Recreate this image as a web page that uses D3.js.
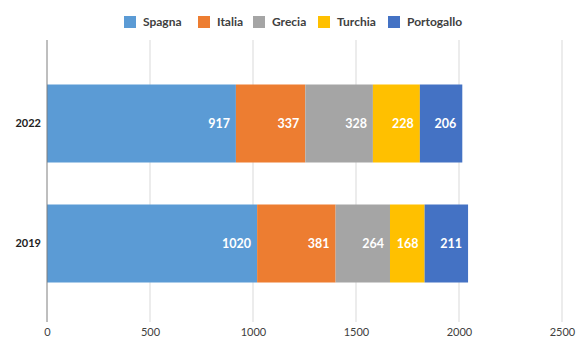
<!DOCTYPE html>
<html><head><meta charset="utf-8">
<script src="https://cdn.jsdelivr.net/npm/d3@7"></script>
<style>body{margin:0;background:#fff}svg{display:block}</style>
</head><body><svg id="c" width="580" height="359"></svg>
<script>
const years = ["2022", "2019"];
const countries = ["Spagna", "Italia", "Grecia", "Turchia", "Portogallo"];
const spagna = [917, 1020];
const italia = [337, 381];
const grecia = [328, 264];
const turchia = [228, 168];
const portogallo = [206, 211];
const xTicks = [0, 500, 1000, 1500, 2000, 2500];
const colors = ["#5B9BD5", "#ED7D31", "#A5A5A5", "#FFC000", "#4472C4"];

const seriesVals = [spagna, italia, grecia, turchia, portogallo];
const rows = years.map((y, i) => {
  const r = {year: y};
  countries.forEach((c, j) => r[c] = seriesVals[j][i]);
  return r;
});
const svg = d3.select("#c");
const font = "Lato, 'Open Sans', sans-serif";
const x = d3.scaleLinear().domain([0, 2500]).range([47, 562]);
const y = d3.scaleBand().domain(years).range([44, 323]).paddingInner(0.35).paddingOuter(0.3375);

// grid
svg.append("g").selectAll("line").data(xTicks.slice(1)).join("line")
  .attr("x1", d => x(d)).attr("x2", d => x(d)).attr("y1", 40).attr("y2", 322)
  .attr("stroke", "#d9d9d9").attr("stroke-width", 1);

const stack = d3.stack().keys(countries)(rows);
const col = d3.scaleOrdinal().domain(countries).range(colors);
const g = svg.append("g");
stack.forEach(s => {
  g.append("g").selectAll("rect").data(s).join("rect")
    .attr("x", d => x(d[0])).attr("width", d => x(d[1]) - x(d[0]))
    .attr("y", d => y(d.data.year)).attr("height", y.bandwidth())
    .attr("fill", col(s.key));
  g.append("g").selectAll("text").data(s).join("text")
    .attr("x", d => x(d[1]) - 6).attr("y", d => y(d.data.year) + y.bandwidth() / 2)
    .attr("dy", "0.35em").attr("text-anchor", "end")
    .attr("fill", "#fff").attr("font-family", font).attr("font-weight", "bold").attr("font-size", 12.5)
    .text(d => d.data[s.key]);
});

// axis line at 0
svg.append("line").attr("x1", x(0)).attr("x2", x(0)).attr("y1", 40).attr("y2", 322)
  .attr("stroke", "#7f7f7f").attr("stroke-width", 1);

// x tick labels
const xa = d3.axisBottom(x).tickValues(xTicks).tickFormat(d3.format("d")).tickSize(0).tickPadding(0);
const xg = svg.append("g").attr("transform", "translate(0,328)").call(xa);
xg.select(".domain").remove();
xg.selectAll("text").attr("font-family", font).attr("font-size", 11).attr("fill", "#404040");

// y labels
const ya = d3.axisLeft(y).tickSize(0).tickPadding(6);
const yg = svg.append("g").attr("transform", `translate(${x(0)},0)`).call(ya);
yg.select(".domain").remove();
yg.selectAll("text").attr("font-family", font).attr("font-size", 11).attr("font-weight", "bold").attr("fill", "#222");

// legend
const legX = [124, 198, 253, 318, 388];
const lg = svg.append("g");
countries.forEach((c, i) => {
  lg.append("rect").attr("x", legX[i]).attr("y", 16).attr("width", 12).attr("height", 12).attr("fill", colors[i]);
  lg.append("text").attr("x", legX[i] + 19).attr("y", 22).attr("dy", "0.35em")
    .attr("font-family", font).attr("font-size", 12).attr("font-weight", "bold").attr("fill", "#404040").text(c);
});
</script></body></html>
